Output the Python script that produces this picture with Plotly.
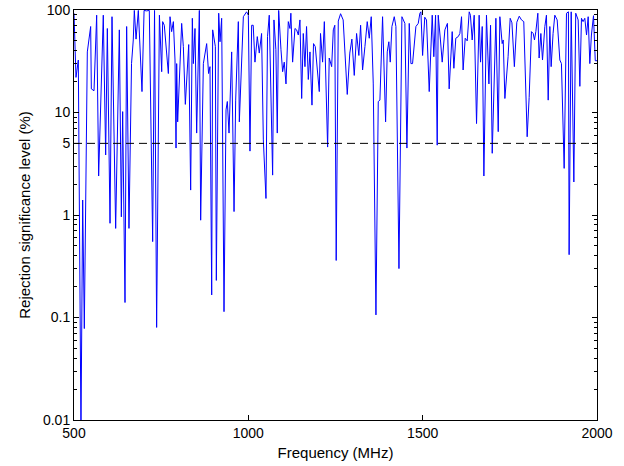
import plotly.graph_objects as go

# ---- data (frequency in MHz, rejection significance level in %) ----
FREQ_A = [500, 505.7, 512.4, 520, 524.9, 529.6, 538.2, 547.8, 549.7, 557.4, 565, 570.7, 584, 590.8, 595.6,
          603.3, 609, 619.5, 630, 635.8, 639.6, 646.3, 651, 657.7, 665, 670, 673, 678, 684.5, 695, 701, 708,
          716, 725.6, 731, 737, 745]
LEVEL_A = [93, 22, 32.5, 0.008, 1.4, 0.078, 39, 69, 17, 16.3, 89, 2.4, 89, 3.85, 66, 0.83, 86, 0.74, 64, 0.96,
           10.2, 0.14, 69, 0.74, 30, 51, 99, 52, 99, 16, 99, 98, 99, 0.55, 99, 0.08, 89]

FREQ_B = [751.5, 754.3, 759, 770.6, 775.4, 780, 785, 789.7, 792.6, 794.5, 797.3, 808.8, 813.6, 819.3, 823, 829,
          834.6, 839.4, 842.3, 847, 851.8, 859.5, 863.3, 871, 880.5, 886, 890, 894.9, 897.7, 905.4, 908.2, 915,
          918.8, 923.5, 930.2, 936, 939.8, 944.6, 952.2, 959, 963.7, 971.3, 974.2, 985.7, 995]
LEVEL_B = [25, 77, 71, 24, 86, 61.5, 77, 32.5, 4.5, 30, 8.1, 74, 44, 12, 21, 46, 1.75, 83, 30, 66, 6.3, 99,
           0.89, 30, 47, 24, 28, 0.166, 64, 44, 0.23, 93, 49, 83, 0.114, 10.6, 12.8, 6.3, 39, 1.08, 13.2, 77,
           8.1, 86, 96]

FREQ_C = [1000, 1004.7, 1009.5, 1014, 1019, 1025.7, 1031.4, 1038, 1043, 1050.6, 1055, 1060, 1069.7, 1073.5,
          1079, 1083, 1087, 1093.6, 1098.4, 1103, 1108, 1114.6, 1119.4, 1122, 1127, 1133.7, 1138.5, 1143.3,
          1148, 1153, 1157.6, 1162.4, 1167, 1172, 1176.8, 1182.5, 1187, 1192, 1197.8, 1203.5, 1207, 1213,
          1218, 1227.4, 1232, 1239, 1243.7, 1248]
LEVEL_C = [89, 4.2, 71, 71, 31, 55, 38, 59, 5.4, 1.45, 55, 89, 2.45, 80, 41, 6.3, 99, 41, 25, 31, 19, 77, 66,
           93, 31, 66, 64, 57, 80, 13.7, 59, 28, 69, 21, 39, 11.8, 47, 44, 24, 16, 59, 31, 77, 4.6, 34, 28,
           64, 71]

FREQ_D = [1252, 1258, 1264.6, 1272, 1283.7, 1291, 1297, 1303.8, 1310.5, 1317, 1322, 1327.7, 1334.4, 1341,
          1346.8, 1352.5, 1358.3, 1366, 1372.6, 1377.4, 1385, 1393.7, 1398.4, 1403, 1407, 1411.8, 1418.5,
          1423.3, 1432, 1440.5, 1449, 1454.8, 1461.5, 1466.3, 1471, 1480.6, 1487.3, 1492, 1495, 1499.8]
LEVEL_D = [0.36, 78, 92, 80, 15, 38, 52, 23, 59, 36, 71, 26, 44, 77, 53, 86, 19, 0.106, 12.8, 13.2, 86, 8.1,
           39, 49, 31, 69, 86, 69, 0.30, 86, 74, 4.5, 74, 30, 30, 69, 74, 93, 96, 36]

FREQ_E = [1506, 1511, 1518.8, 1527.4, 1532, 1537, 1541.7, 1544.6, 1551, 1556, 1563.7, 1571, 1576, 1584.7,
          1589.5, 1595, 1602, 1606.7, 1611.5, 1616, 1622, 1627.8, 1633.5, 1637, 1642, 1647.8, 1654.5, 1662,
          1666, 1670.8, 1675.6, 1683, 1690, 1694.7, 1699.5, 1710, 1716.7, 1721.4, 1728, 1731, 1735.8, 1745]
LEVEL_E = [85, 80, 16, 89, 35, 89, 4.8, 89, 51, 31, 64, 74, 17, 61.5, 27, 53, 55, 59, 86, 26, 53, 50, 96, 89,
           51, 89, 7.8, 89, 31, 69, 2.4, 89, 19, 71, 4.0, 83, 6.5, 86, 47, 51, 13.7, 35]

FREQ_F = [1751, 1756, 1763, 1770, 1777, 1783.5, 1790, 1799.7, 1805.4, 1812, 1817, 1820.7, 1824.6, 1830.3,
          1834, 1839, 1843.7, 1850.4, 1855, 1860, 1864.7, 1868.5, 1874, 1879, 1885.8, 1893.4, 1898, 1905.8,
          1912.5, 1918, 1920, 1926, 1933.6, 1939, 1946, 1950.8, 1955.5, 1960, 1965, 1970, 1974.7, 1979.4,
          1984, 1990, 1995, 2000]
LEVEL_F = [83, 75, 28, 76, 87, 80, 77, 5.8, 14, 61.5, 59, 51, 61.5, 93, 34, 59, 32.5, 69, 89, 13.2, 69, 28,
           59, 89, 80, 32.5, 30, 2.85, 93, 96, 0.41, 96, 2.1, 93, 80, 18, 83, 77, 83, 57, 86, 30, 57, 88, 32, 32]

THRESHOLD = 5  # % significance level (dashed line)

X_TICKS = [500, 1000, 1500, 2000]
Y_TICKS = [0.01, 0.1, 1, 5, 10, 100]
Y_TICK_LABELS = ["0.01", "0.1", "1", "5", "10", "100"]

freq = FREQ_A + FREQ_B + FREQ_C + FREQ_D + FREQ_E + FREQ_F
level = LEVEL_A + LEVEL_B + LEVEL_C + LEVEL_D + LEVEL_E + LEVEL_F

FONT = "Liberation Sans, Arial, Helvetica, sans-serif"

fig = go.Figure()
fig.add_trace(go.Scatter(x=freq, y=level, mode="lines",
                         line=dict(color="#0000FF", width=1), showlegend=False))
fig.add_trace(go.Scatter(x=[X_TICKS[0], X_TICKS[-1]], y=[THRESHOLD, THRESHOLD], mode="lines",
                         line=dict(color="black", width=1, dash="8px,5px"), showlegend=False))

minor_y = [m * 10 ** e for e in range(-2, 2) for m in range(2, 10) if not (e == 0 and m == 5)]

fig.update_layout(
    width=624, height=466,
    margin=dict(l=74, r=27, t=10, b=46),
    paper_bgcolor="white", plot_bgcolor="white",
    font=dict(family=FONT, size=14, color="black"),
)
fig.update_xaxes(
    range=[500, 2000], tickvals=X_TICKS, ticktext=[str(v) for v in X_TICKS],
    showgrid=False, zeroline=False, showline=True, linecolor="black", linewidth=1,
    mirror="allticks", ticks="inside", ticklen=5, tickcolor="black", automargin=False,
    title=dict(text="Frequency (MHz)", font=dict(size=15), standoff=7),
)
fig.update_yaxes(
    type="log", range=[-2, 2], tickvals=Y_TICKS, ticktext=Y_TICK_LABELS,
    showgrid=False, zeroline=False, showline=True, linecolor="black", linewidth=1,
    mirror="allticks", ticks="inside", ticklen=5, tickcolor="black", automargin=False,
    minor=dict(tickvals=minor_y, ticks="inside", ticklen=3, tickcolor="black", showgrid=False),
    title=dict(text="Rejection significance level (%)", font=dict(size=15), standoff=8),
)

fig.write_html("out.html")
